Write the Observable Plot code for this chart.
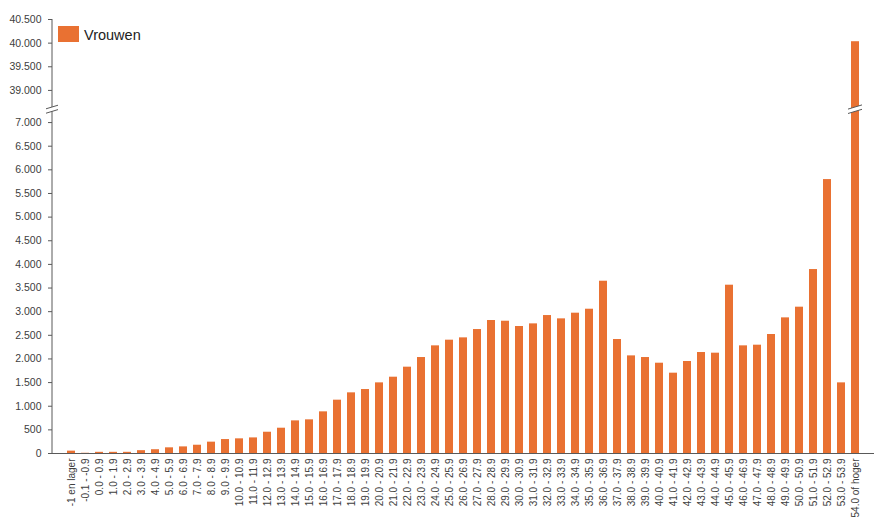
<!DOCTYPE html>
<html>
<head>
<meta charset="utf-8">
<script src="https://cdn.jsdelivr.net/npm/d3@7"></script>
<script src="https://cdn.jsdelivr.net/npm/@observablehq/plot@0.6"></script>
<style>
  html, body { margin: 0; padding: 0; background: #fff; }
  #chart { width: 884px; height: 528px; }
</style>
</head>
<body>
<div id="chart"></div>
<script>
const categories = [
  "-1 en lager", "-0.1 - -0.9", "0.0 - 0.9", "1.0 - 1.9", "2.0 - 2.9", "3.0 - 3.9", "4.0 - 4.9",
  "5.0 - 5.9", "6.0 - 6.9", "7.0 - 7.9", "8.0 - 8.9", "9.0 - 9.9", "10.0 - 10.9", "11.0 - 11.9",
  "12.0 - 12.9", "13.0 - 13.9", "14.0 - 14.9", "15.0 - 15.9", "16.0 - 16.9", "17.0 - 17.9",
  "18.0 - 18.9", "19.0 - 19.9", "20.0 - 20.9", "21.0 - 21.9", "22.0 - 22.9", "23.0 - 23.9",
  "24.0 - 24.9", "25.0 - 25.9", "26.0 - 26.9", "27.0 - 27.9", "28.0 - 28.9", "29.0 - 29.9",
  "30.0 - 30.9", "31.0 - 31.9", "32.0 - 32.9", "33.0 - 33.9", "34.0 - 34.9", "35.0 - 35.9",
  "36.0 - 36.9", "37.0 - 37.9", "38.0 - 38.9", "39.0 - 39.9", "40.0 - 40.9", "41.0 - 41.9",
  "42.0 - 42.9", "43.0 - 43.9", "44.0 - 44.9", "45.0 - 45.9", "46.0 - 46.9", "47.0 - 47.9",
  "48.0 - 48.9", "49.0 - 49.9", "50.0 - 50.9", "51.0 - 51.9", "52.0 - 52.9", "53.0 - 53.9",
  "54.0 of hoger"
];
const vrouwen = [
  50, 5, 25, 25, 25, 60, 80,
  120, 140, 175, 240, 295, 310, 330,
  450, 535, 690, 712, 881, 1128,
  1283, 1353, 1494, 1614, 1826, 2030,
  2277, 2397, 2446, 2622, 2813, 2798,
  2686, 2742, 2918, 2848, 2968, 3052,
  3644, 2411, 2065, 2030, 1910, 1699,
  1946, 2136, 2122, 3560, 2277, 2291,
  2517, 2869, 3095, 3891, 5794, 1494,
  40030
];
const seriesName = "Vrouwen";
const yTicksLow = [0, 500, 1000, 1500, 2000, 2500, 3000, 3500, 4000, 4500, 5000, 5500, 6000, 6500, 7000];
const yTicksHigh = [39000, 39500, 40000, 40500];

const lowMax = 7000, highMin = 39000, highMax = 40500, gap = 680;
const brk = v => v > 20000 ? v - highMin + lowMax + gap : v;
const unbrk = t => t > lowMax + gap / 2 ? t - lowMax - gap + highMin : t;
const nl = d3.formatLocale({decimal: ",", thousands: ".", grouping: [3], currency: ["€", ""]});
const fmt = nl.format(",d");

const data = categories.map((c, i) => ({cat: c, value: vrouwen[i]}));
const orange = "#E97132";
const lineColor = "#595959";
const breakValue = lowMax + gap * 0.4;

function breakMark(g, cx, cy, halfW) {
  const ns = "http://www.w3.org/2000/svg";
  const s = 0.3, h = 2.2;
  const poly = document.createElementNS(ns, "polygon");
  poly.setAttribute("points", [
    [cx - halfW, cy + halfW * s - h], [cx + halfW, cy - halfW * s - h],
    [cx + halfW, cy - halfW * s + h], [cx - halfW, cy + halfW * s + h]
  ].map(p => p.join(",")).join(" "));
  poly.setAttribute("fill", "#fff");
  g.appendChild(poly);
  for (const off of [-h, h]) {
    const l = document.createElementNS(ns, "line");
    l.setAttribute("x1", cx - halfW); l.setAttribute("y1", cy + halfW * s + off);
    l.setAttribute("x2", cx + halfW); l.setAttribute("y2", cy - halfW * s + off);
    l.setAttribute("stroke", lineColor); l.setAttribute("stroke-width", 1);
    g.appendChild(l);
  }
}

const chart = Plot.plot({
  width: 884,
  height: 528,
  marginLeft: 52,
  marginRight: 10,
  marginTop: 19,
  marginBottom: 75,
  style: {fontFamily: "'Liberation Sans', Arial, sans-serif", fontSize: "10px", color: "#404040", background: "#fff"},
  x: {domain: categories, paddingInner: 0.42, paddingOuter: 0.21, label: null},
  y: {domain: [0, brk(highMax)], label: null},
  marks: [
    Plot.barY(data, {x: "cat", y: d => brk(d.value), fill: orange}),
    Plot.axisY({
      ticks: [...yTicksLow, ...yTicksHigh].map(brk),
      tickFormat: t => fmt(Math.round(unbrk(t))),
      tickSize: 4, tickPadding: 7, stroke: lineColor, fontSize: 10.5, label: null
    }),
    Plot.axisX({tickSize: 0, tickRotate: -90, tickPadding: 5, label: null, fontSize: 10}),
    Plot.ruleY([0], {stroke: lineColor}),
    (index, scales, values, dimensions) => {
      const ns = "http://www.w3.org/2000/svg";
      const g = document.createElementNS(ns, "g");
      const x0 = dimensions.marginLeft;
      const axis = document.createElementNS(ns, "line");
      axis.setAttribute("x1", x0); axis.setAttribute("x2", x0);
      axis.setAttribute("y1", scales.y(0)); axis.setAttribute("y2", scales.y(brk(highMax)));
      axis.setAttribute("stroke", lineColor);
      g.appendChild(axis);
      const yb = scales.y(breakValue);
      breakMark(g, x0, yb, 6);
      data.filter(d => d.value > highMin).forEach(d => {
        const cx = scales.x(d.cat) + scales.x.bandwidth() / 2;
        breakMark(g, cx, yb, scales.x.bandwidth() / 2 + 3);
      });
      // legend
      const r = document.createElementNS(ns, "rect");
      r.setAttribute("x", x0 + 6); r.setAttribute("y", 26);
      r.setAttribute("width", 21); r.setAttribute("height", 16);
      r.setAttribute("fill", orange);
      g.appendChild(r);
      const t = document.createElementNS(ns, "text");
      t.setAttribute("x", x0 + 32); t.setAttribute("y", 39.5);
      t.setAttribute("fill", "#222");
      t.setAttribute("text-anchor", "start");
      t.setAttribute("font-size", "14.5px");
      t.textContent = seriesName;
      g.appendChild(t);
      return g;
    }
  ]
});
document.getElementById("chart").appendChild(chart);
</script>
</body>
</html>
